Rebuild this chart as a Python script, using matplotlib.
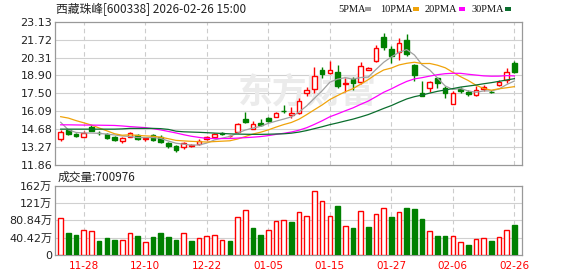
import numpy as np
import pandas as pd
import matplotlib
matplotlib.use('Agg')
import matplotlib.pyplot as plt
from matplotlib.patches import Rectangle

# 西藏珠峰 600338 日K，价格单位元，成交量单位万
dates = ['11-25', '11-26', '11-27', '11-28', '12-01', '12-02', '12-03', '12-04', '12-05', '12-08',
         '12-09', '12-10', '12-11', '12-12', '12-15', '12-16', '12-17', '12-18', '12-19', '12-22',
         '12-23', '12-24', '12-25', '12-26', '12-29', '12-30', '12-31', '01-05', '01-06', '01-07',
         '01-08', '01-09', '01-12', '01-13', '01-14', '01-15', '01-16', '01-19', '01-20', '01-21',
         '01-22', '01-23', '01-26', '01-27', '01-28', '01-29', '01-30', '02-02', '02-03', '02-04',
         '02-05', '02-06', '02-09', '02-10', '02-11', '02-12', '02-13', '02-24', '02-25', '02-26']

open_ = [13.88, 14.61, 14.30, 14.09, 14.82, 14.40, 14.30, 14.09, 13.77, 14.09,
         14.19, 13.90, 14.19, 14.09, 13.62, 13.35, 13.31, 13.36, 13.49, 13.90,
         14.08, 14.40, 14.12, 14.48, 15.50, 14.71, 15.19, 15.53, 15.66, 16.12,
         15.80, 15.92, 17.50, 17.81, 19.30, 19.06, 19.18, 18.22, 18.60, 18.35,
         19.36, 20.06, 21.95, 20.96, 20.75, 21.70, 19.75, 17.50, 17.95, 18.68,
         17.88, 16.65, 17.83, 17.62, 17.36, 17.81, 17.62, 18.15, 18.54, 19.90]
high = [14.61, 14.69, 14.40, 14.56, 14.98, 14.51, 14.35, 14.12, 14.04, 14.45,
        14.30, 14.09, 14.30, 14.19, 13.67, 13.41, 13.67, 13.55, 13.88, 14.15,
        14.35, 14.45, 14.20, 15.15, 16.03, 15.32, 15.45, 15.60, 16.05, 16.58,
        16.45, 17.15, 18.02, 19.59, 19.59, 20.00, 19.72, 18.68, 18.80, 19.93,
        19.55, 21.29, 22.21, 21.22, 21.82, 22.20, 19.80, 18.46, 18.46, 18.80,
        18.05, 17.68, 17.97, 17.76, 18.07, 18.15, 17.75, 18.55, 19.46, 20.06]
low = [13.77, 14.19, 14.04, 14.04, 14.51, 14.24, 13.93, 13.77, 13.62, 14.04,
       13.85, 13.72, 13.77, 13.56, 13.20, 12.88, 13.14, 13.30, 13.43, 13.85,
       14.02, 14.20, 14.08, 14.40, 15.14, 14.66, 14.93, 15.27, 15.60, 15.92,
       15.55, 15.85, 17.31, 17.54, 18.68, 19.01, 17.95, 17.62, 17.76, 18.20,
       19.30, 19.98, 20.90, 19.90, 20.10, 20.45, 18.50, 17.25, 17.62, 17.94,
       17.15, 16.63, 17.50, 17.28, 17.28, 17.70, 17.50, 18.05, 18.33, 19.07]
close = [14.45, 14.30, 14.14, 14.40, 14.56, 14.35, 13.98, 13.83, 13.98, 14.40,
         13.90, 13.98, 13.83, 13.67, 13.35, 13.04, 13.58, 13.47, 13.75, 14.08,
         14.27, 14.30, 14.14, 15.06, 15.26, 15.06, 14.98, 15.32, 15.92, 16.08,
         15.93, 16.89, 17.76, 18.88, 19.02, 19.30, 18.10, 18.34, 18.30, 19.65,
         19.49, 21.08, 21.16, 20.43, 21.43, 20.60, 18.94, 17.30, 18.37, 18.28,
         17.50, 17.54, 17.68, 17.42, 17.76, 18.02, 17.57, 18.41, 19.18, 19.15]
volume = [85.7, 51, 46, 57, 56, 32, 39, 35, 34, 50,
          44, 31, 42, 51, 42, 35, 50, 32, 38.5, 43,
          45.6, 34, 32, 88, 104.6, 63, 46, 57, 78.6, 81,
          77, 100, 90, 149, 126, 90, 115, 67, 63, 102,
          65, 96, 109, 89, 100, 110, 108, 84, 55, 44,
          44, 43, 31, 23, 36, 38.5, 32, 41, 57, 70.0976]

# 均线开头几天（窗口之前的数据不在图内，直接从图上读）
ma5_head = [15.22, 14.62, 14.42, 14.38]
ma10_head = [15.66, 15.55, 15.35, 15.18, 15.00, 14.77, 14.55, 14.32, 14.20]
ma20_head = [15.02, 15.02, 15.01, 15.00, 15.00, 14.99, 14.98, 14.97, 14.93, 14.88,
             14.84, 14.80, 14.72, 14.62, 14.50, 14.38, 14.24, 14.12, 14.03]
ma30_head = [14.68, 14.68, 14.68, 14.68, 14.68, 14.68, 14.68, 14.68, 14.70, 14.74,
             14.74, 14.74, 14.74, 14.72, 14.66, 14.52, 14.47, 14.45, 14.43, 14.40,
             14.37, 14.34, 14.31, 14.29, 14.28, 14.27, 14.27, 14.28, 14.30]

price_ticks = [11.86, 13.27, 14.68, 16.09, 17.50, 18.90, 20.31, 21.72, 23.13]
vol_ticks = [0, 40.42, 80.84, 121.26, 161.68]
vol_labels = ['0', '40.42万', '80.84万', '121万', '162万']

RED = '#ff0000'
GREEN = '#008000'
MA_COLORS = {5: '#a0a0a0', 10: '#f0a30a', 20: '#ff00ff', 30: '#0b6e2e'}

plt.rcParams['font.family'] = ['DejaVu Sans', 'Noto Sans CJK SC']

W, H = 578, 276
fig = plt.figure(figsize=(W / 100, H / 100), dpi=100)


def px_axes(l, t, r, b):
    return fig.add_axes([l / W, 1 - b / H, (r - l) / W, (b - t) / H])


ax = px_axes(55, 21.7, 522.3, 165)
axv = px_axes(55, 186, 522.3, 254.7)

x = np.arange(len(close))
o = np.array(open_)
c = np.array(close)
hi = np.array(high)
lo = np.array(low)
v = np.array(volume)

up = c >= o
vol_up = np.r_[c[0] >= o[0], c[1:] >= c[:-1]]

tick_idx = list(range(3, len(dates), 8))

for a in (ax, axv):
    a.set_xlim(-0.74, 60.03)
    for s in a.spines.values():
        s.set_color('#999999')
        s.set_linewidth(0.9)
    a.tick_params(length=0, labelsize=8, colors='#222222', pad=2)
    for t in tick_idx:
        a.axvline(t, color='#cccccc', lw=0.8, ls=(0, (4, 3)), zorder=0.5)

# 主图
ax.set_ylim(price_ticks[0], price_ticks[-1])
ax.set_yticks(price_ticks)
ax.set_yticklabels([f'{p:.2f}' for p in price_ticks])
ax.set_xticks([])
for p in price_ticks[1:-1]:
    ax.axhline(p, color='#d0d0d0', lw=0.8, zorder=0.5)

# 水印
ax.text(238 / W, 1 - 92 / H, '东方财富', transform=fig.transFigure,
        fontsize=25, fontweight='bold', color='#ebebeb', family='Noto Sans CJK SC',
        ha='left', va='center', zorder=0.6)

body_w = 0.6
ax.vlines(x[up], lo[up], hi[up], color=RED, lw=1, zorder=2)
ax.vlines(x[~up], lo[~up], hi[~up], color=GREEN, lw=1, zorder=2)
body_lo = np.minimum(o, c)
body_h = np.maximum(np.abs(c - o), 0.02)
ax.bar(x[up], body_h[up], bottom=body_lo[up], width=body_w, facecolor='white',
       edgecolor=RED, lw=1, zorder=3)
ax.bar(x[~up], body_h[~up], bottom=body_lo[~up], width=body_w, facecolor=GREEN,
       edgecolor=GREEN, lw=1, zorder=3)

heads = {5: ma5_head, 10: ma10_head, 20: ma20_head, 30: ma30_head}
for n, head in heads.items():
    line = pd.Series(c).rolling(n).mean().to_numpy()
    line[:n - 1] = head
    ax.plot(x, line, color=MA_COLORS[n], lw=0.9, zorder=4)

# 成交量
axv.set_ylim(0, vol_ticks[-1])
axv.set_yticks(vol_ticks)
axv.set_yticklabels(vol_labels)
for t in vol_ticks[1:-1]:
    axv.axhline(t, color='#d0d0d0', lw=0.8, zorder=0.5)
axv.bar(x[vol_up], v[vol_up], width=body_w, facecolor='white', edgecolor=RED, lw=1, zorder=3)
axv.bar(x[~vol_up], v[~vol_up], width=body_w, facecolor=GREEN, edgecolor=GREEN, lw=1, zorder=3)
axv.set_xticks(tick_idx)
axv.set_xticklabels([dates[i] for i in tick_idx], color=RED, fontsize=7.5)
axv.tick_params(axis='x', pad=4.5, colors=RED)

# 标题、图例
fig.text(56.5 / W, 1 - 9 / H, '西藏珠峰[600338] 2026-02-26 15:00', fontsize=8.5,
         family=['Noto Sans CJK SC', 'DejaVu Sans'], color='#222222', va='center')
fig.text(57.5 / W, 1 - 177 / H, '成交量:700976', fontsize=8.5,
         family=['Noto Sans CJK SC', 'DejaVu Sans'], color='#222222', va='center')

legend_items = [('5PMA', 338, 365, 5), ('10PMA', 380, 413, 10),
                ('20PMA', 425, 459, 20), ('30PMA', 472, 505, 30)]
for label, tx, sx, n in legend_items:
    fig.text(tx / W, 1 - 9 / H, label, fontsize=7.5, family='Liberation Serif',
             color='#111111', va='center', ha='left')
    fig.patches.append(Rectangle((sx / W, 1 - 10.5 / H), 6 / W, 3.5 / H,
                                 transform=fig.transFigure, facecolor=MA_COLORS[n],
                                 edgecolor='none'))

fig.savefig('out.png', dpi=100)
